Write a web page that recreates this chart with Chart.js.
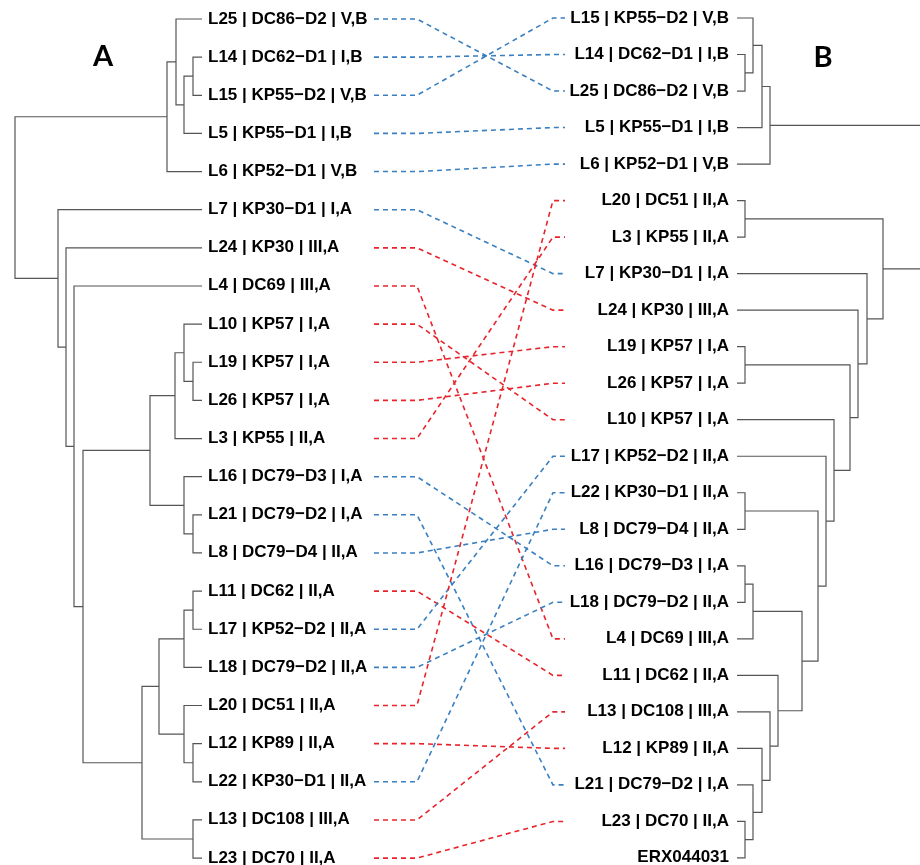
<!DOCTYPE html>
<html>
<head>
<meta charset="utf-8">
<script src="https://cdn.jsdelivr.net/npm/chart.js@4"></script>
<style>
  html, body { margin: 0; padding: 0; background: #fff; }
  #wrap { width: 920px; height: 865px; }
</style>
</head>
<body>
<div id="wrap"><canvas id="c" width="920" height="865"></canvas></div>
<script>
// ---------- DATA ----------
const leftLabels = [
  'L25 | DC86\u2212D2 | V,B', 'L14 | DC62\u2212D1 | I,B', 'L15 | KP55\u2212D2 | V,B',
  'L5 | KP55\u2212D1 | I,B', 'L6 | KP52\u2212D1 | V,B', 'L7 | KP30\u2212D1 | I,A',
  'L24 | KP30 | III,A', 'L4 | DC69 | III,A', 'L10 | KP57 | I,A', 'L19 | KP57 | I,A',
  'L26 | KP57 | I,A', 'L3 | KP55 | II,A', 'L16 | DC79\u2212D3 | I,A', 'L21 | DC79\u2212D2 | I,A',
  'L8 | DC79\u2212D4 | II,A', 'L11 | DC62 | II,A', 'L17 | KP52\u2212D2 | II,A',
  'L18 | DC79\u2212D2 | II,A', 'L20 | DC51 | II,A', 'L12 | KP89 | II,A',
  'L22 | KP30\u2212D1 | II,A', 'L13 | DC108 | III,A', 'L23 | DC70 | II,A'
];
const rightLabels = [
  'L15 | KP55\u2212D2 | V,B', 'L14 | DC62\u2212D1 | I,B', 'L25 | DC86\u2212D2 | V,B',
  'L5 | KP55\u2212D1 | I,B', 'L6 | KP52\u2212D1 | V,B', 'L20 | DC51 | II,A', 'L3 | KP55 | II,A',
  'L7 | KP30\u2212D1 | I,A', 'L24 | KP30 | III,A', 'L19 | KP57 | I,A', 'L26 | KP57 | I,A',
  'L10 | KP57 | I,A', 'L17 | KP52\u2212D2 | II,A', 'L22 | KP30\u2212D1 | II,A',
  'L8 | DC79\u2212D4 | II,A', 'L16 | DC79\u2212D3 | I,A', 'L18 | DC79\u2212D2 | II,A',
  'L4 | DC69 | III,A', 'L11 | DC62 | II,A', 'L13 | DC108 | III,A', 'L12 | KP89 | II,A',
  'L21 | DC79\u2212D2 | I,A', 'L23 | DC70 | II,A', 'ERX044031'
];
// link colour per left leaf (b = blue, r = red)
const linkColors = ['b','b','b','b','b','b','r','r','r','r','r','r','b','b','b','r','b','b','r','r','b','r','r'];
// trees: [mergeHeight, childA, childB]; leaves are indices into the label arrays
const leftTree =
  [18.7,
    [3.5, [2.6, 0, [1.8, [0.9, 1, 2], 3]], 4],
    [14.4, 5, [13.6, 6, [12.8, 7, [11.9,
      [5.2, [2.7, [1.8, 8, [0.9, 9, 10]], 11], [1.8, 12, [0.9, 13, 14]]],
      [6.0, [4.3, [1.8, [0.9, 15, 16], 17], [1.8, 18, [0.9, 19, 20]]], [0.9, 21, 22]]
    ]]]]
  ];
const rightTree =
  [22.0,
    [3.3, [2.5, [1.6, 0, [0.8, 1, 2]], 3], 4],
    [14.6, [0.8, 5, 6], [13.0, 7, [12.1, 8, [11.3, [0.8, 9, 10], [9.7, 11, [8.9, 12, [8.1,
      [0.8, 13, 14],
      [6.5, [1.6, [0.8, 15, 16], 17], [4.1, 18, [3.3, 19, [2.5, 20, [1.6, 21, [0.8, 22, 23]]]]]]
    ]]]]]]]
  ];
const panelTitles = ['A', 'B'];

// ---------- build dendrogram segments ----------
function buildSegments(tree) {
  const pts = [];
  const gap = {x: null, y: null};
  function walk(node) {
    if (typeof node === 'number') return {h: 0, y: node};
    const [h, a, b] = node;
    const ca = walk(a), cb = walk(b);
    pts.push({x: ca.h, y: ca.y}, {x: h, y: ca.y}, {x: h, y: cb.y}, {x: cb.h, y: cb.y}, gap);
    return {h: h, y: (ca.y + cb.y) / 2};
  }
  walk(tree);
  return pts;
}
const leftSegs = buildSegments(leftTree);
const rightSegs = buildSegments(rightTree);

const COLORS = {b: '#3a7fc0', r: '#e8242b'};
const LABEL_FONT = 'bold 17px "Liberation Sans", Arial, sans-serif';
const TITLE_FONT = 'bold 29px Lato, "Open Sans", sans-serif';

const overlayPlugin = {
  id: 'overlay',
  afterDatasetsDraw(chart) {
    const c = chart.ctx;
    const s = chart.scales;
    c.save();
    // connecting dashed lines
    c.lineWidth = 1.6;
    c.setLineDash([5, 4]);
    leftLabels.forEach((lab, i) => {
      const j = rightLabels.indexOf(lab);
      if (j < 0) return;
      const yl = s.yL.getPixelForValue(i), yr = s.yR.getPixelForValue(j);
      c.strokeStyle = COLORS[linkColors[i]];
      c.beginPath();
      c.moveTo(s.xM.getPixelForValue(0), yl);
      c.lineTo(s.xM.getPixelForValue(0.225), yl);
      c.lineTo(s.xM.getPixelForValue(0.937), yr);
      c.lineTo(s.xM.getPixelForValue(1), yr);
      c.stroke();
    });
    c.setLineDash([]);
    // leaf labels
    c.fillStyle = '#000';
    c.font = LABEL_FONT;
    c.textBaseline = 'alphabetic';
    c.textAlign = 'left';
    const xl = s.xL.getPixelForValue(0) + 6;
    leftLabels.forEach((lab, i) => c.fillText(lab, xl, s.yL.getPixelForValue(i) + 4.5));
    c.textAlign = 'right';
    const xr = s.xR.getPixelForValue(0) - 8;
    rightLabels.forEach((lab, j) => c.fillText(lab, xr, s.yR.getPixelForValue(j) + 4.5));
    // panel titles
    c.font = TITLE_FONT;
    c.textAlign = 'center';
    const a = chart.chartArea;
    c.fillText(panelTitles[0], a.left + 103, a.top + 66);
    c.fillText(panelTitles[1], a.left + 823, a.top + 67);
    c.restore();
  }
};

const lineStyle = {showLine: true, borderColor: '#555', borderWidth: 1.2, pointRadius: 0, spanGaps: false, fill: false};

function draw() {
  new Chart(document.getElementById('c'), {
    type: 'scatter',
    data: {
      datasets: [
        Object.assign({data: leftSegs, xAxisID: 'xL', yAxisID: 'yL'}, lineStyle),
        Object.assign({data: rightSegs, xAxisID: 'xR', yAxisID: 'yR'}, lineStyle)
      ]
    },
    options: {
      responsive: false,
      animation: false,
      devicePixelRatio: 1,
      layout: {padding: 0},
      plugins: {legend: {display: false}, tooltip: {enabled: false}, title: {display: false}},
      scales: {
        xL: {type: 'linear', axis: 'x', display: false, reverse: true, min: -71.8, max: 20.2},
        xR: {type: 'linear', axis: 'x', display: false, min: -73.7, max: 18.3},
        xM: {type: 'linear', axis: 'x', display: false, min: -374 / 191, max: (920 - 374) / 191},
        yL: {type: 'linear', axis: 'y', display: false, reverse: true, min: -19 / 38.14, max: (865 - 19) / 38.14},
        yR: {type: 'linear', axis: 'y', display: false, reverse: true, min: -18 / 36.52, max: (865 - 18) / 36.52}
      }
    },
    plugins: [overlayPlugin]
  });
}
Promise.all([document.fonts.load(LABEL_FONT), document.fonts.load(TITLE_FONT)])
  .then(draw, draw);
</script>
</body>
</html>
